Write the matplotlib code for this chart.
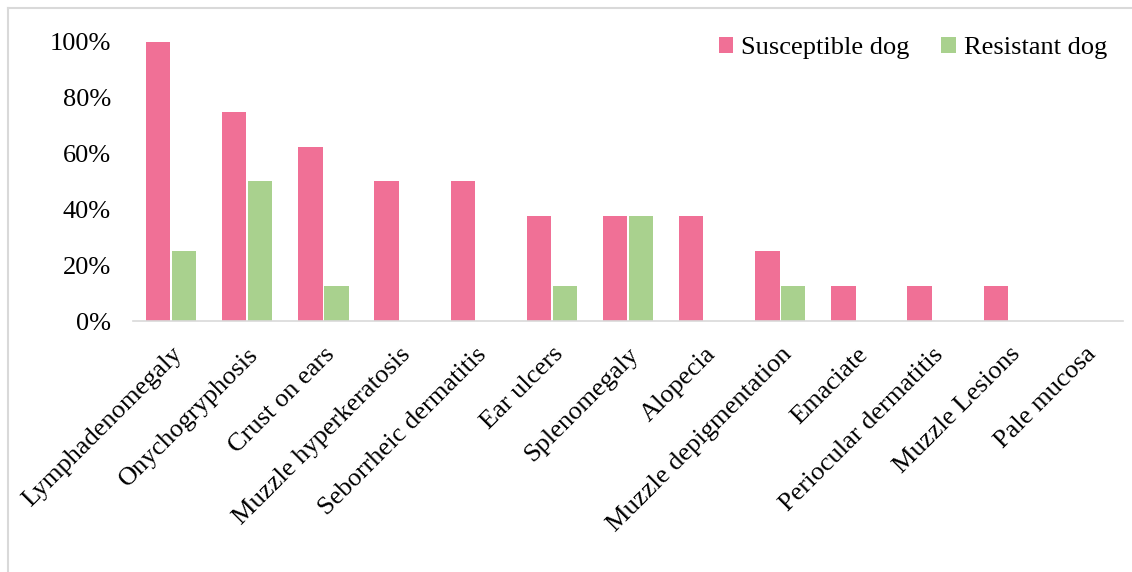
import numpy as np
import matplotlib.pyplot as plt
from matplotlib.lines import Line2D
from matplotlib.ticker import PercentFormatter

plt.rcParams['font.family'] = ['Liberation Serif', 'DejaVu Serif']

# data
signs = ["Lymphadenomegaly", "Onychogryphosis", "Crust on ears", "Muzzle hyperkeratosis",
         "Seborrheic dermatitis", "Ear ulcers", "Splenomegaly", "Alopecia",
         "Muzzle depigmentation", "Emaciate", "Periocular dermatitis", "Muzzle Lesions",
         "Pale mucosa"]
susceptible = [1.0, 0.75, 0.625, 0.5, 0.5, 0.375, 0.375, 0.375, 0.25, 0.125, 0.125, 0.125, 0.0]
resistant = [0.25, 0.5, 0.125, 0.0, 0.0, 0.125, 0.375, 0.0, 0.125, 0.0, 0.0, 0.0, 0.0]

pink = "#F07096"
green = "#A9D18E"

fig = plt.figure(figsize=(11.32, 5.72), dpi=100)
ax = fig.add_axes([0.1175, 0.4388, 0.8745, 0.4878])

x = np.arange(len(signs))
w = 0.32
ax.bar(x - 0.17, susceptible, w, color=pink, label="Susceptible dog")
ax.bar(x + 0.17, resistant, w, color=green, label="Resistant dog")

ax.set_xlim(-0.5, len(signs) - 0.5)
ax.set_ylim(0, 1.0)
ax.set_yticks(np.arange(0, 1.01, 0.2))
ax.yaxis.set_major_formatter(PercentFormatter(1.0, decimals=0))
ax.set_xticks(x)
ax.set_xticklabels(signs, rotation=45, ha="right", rotation_mode="anchor")
ax.tick_params(axis="both", length=0, labelsize=19)
ax.tick_params(axis="y", pad=16)
ax.tick_params(axis="x", pad=16)

for s in ["top", "right", "left"]:
    ax.spines[s].set_visible(False)
ax.spines["bottom"].set_color("#d9d9d9")
ax.spines["bottom"].set_linewidth(1.2)

ax.legend(loc="upper right", ncol=2, frameon=False, fontsize=19,
          handlelength=0.55, handleheight=0.55, handletextpad=0.3,
          columnspacing=1.2, bbox_to_anchor=(1.0, 1.075), borderaxespad=0.2)

# light frame around the chart area
fig.add_artist(Line2D([8 / 1132, 8 / 1132], [0, 1 - 8 / 572], transform=fig.transFigure,
                      color="#d9d9d9", lw=1.5))
fig.add_artist(Line2D([8 / 1132, 1], [1 - 8 / 572, 1 - 8 / 572], transform=fig.transFigure,
                      color="#d9d9d9", lw=1.5))

fig.savefig("out.png", dpi=100)
